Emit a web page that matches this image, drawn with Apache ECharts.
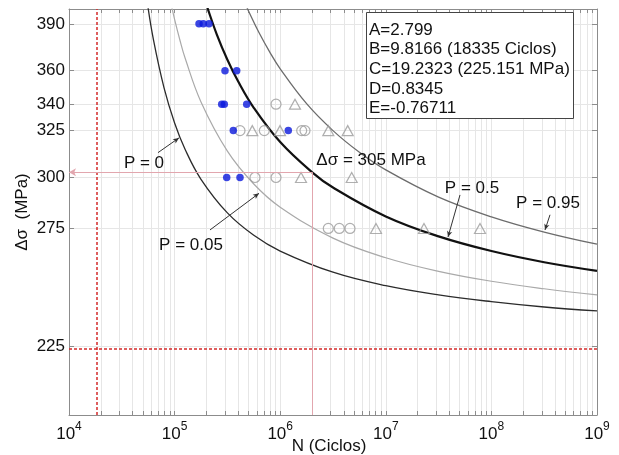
<!DOCTYPE html>
<html>
<head>
<meta charset="utf-8">
<title>Curvas S-N (P = 0, 0.05, 0.5, 0.95)</title>
<script src="https://cdn.jsdelivr.net/npm/echarts@6.0.0/dist/echarts.min.js"></script>
<style>
  html, body { margin: 0; padding: 0; background: #fff; }
  #main { width: 619px; height: 455px; }
</style>
</head>
<body>
<div id="main"></div>
<script>
// ---- datos ----
// ejes
const xExpo = [4, 5, 6, 7, 8, 9];                       // 10^n ciclos
const yTicks = [225, 275, 300, 325, 340, 360, 390];       // MPa
const yMin = 200, yMax = 400;

// curvas percentiles (N en ciclos, S en MPa)
const curvaN_P0 = [5.495e4, 6.31e4, 7.943e4, 1e5, 1.259e5, 1.778e5, 3.162e5, 5.623e5, 1e6, 3.162e6, 1e7, 3.162e7, 1e8, 3.162e8, 1e9];
const curvaS_P0 = [405.2, 379.4, 349.6, 329.3, 314.7, 299.1, 282.4, 271.8, 264.6, 255.2, 249.4, 245.5, 242.7, 240.5, 238.9];

const curvaN_P005 = [9.12e4, 1e5, 1.122e5, 1.259e5, 1.778e5, 3.162e5, 5.623e5, 1e6, 3.162e6, 1e7, 3.162e7, 1e8, 3.162e8, 1e9];
const curvaS_P005 = [405.8, 393.0, 379.4, 367.7, 341.3, 313.8, 296.7, 285.2, 270.5, 261.6, 255.6, 251.3, 248.1, 245.5];

const curvaN_P05 = [1.95e5, 1.995e5, 2.512e5, 3.162e5, 3.981e5, 5.623e5, 1e6, 1.995e6, 3.162e6, 1e7, 3.162e7, 1e8, 3.162e8, 1e9];
const curvaS_P05 = [405.3, 403.1, 382.9, 366.8, 353.7, 337.9, 318.7, 302.8, 294.9, 280.7, 271.3, 264.6, 259.6, 255.8];

const curvaN_P095 = [4.571e5, 5.012e5, 6.31e5, 7.943e5, 1e6, 1.778e6, 3.162e6, 5.623e6, 1e7, 3.162e7, 1e8, 3.162e8, 1e9];
const curvaS_P095 = [405.2, 398.7, 384.1, 371.8, 361.2, 340.3, 325.0, 313.2, 303.9, 290.1, 280.5, 273.3, 267.7];

// ensayos
const rotosN = [170300, 186900, 211800, 300100, 387300, 279300, 295500, 481800, 359700, 1193000, 311500, 416300];
const rotosS = [390, 390, 390, 360, 360, 340, 340, 340, 325, 325, 300, 300];
const circN = [912700, 416300, 707200, 1598000, 1717000, 577200, 912700, 2854000, 3628000, 4581000];
const circS = [340, 325, 325, 325, 325, 300, 300, 275, 275, 275];
const triN = [1380700, 544100, 995600, 2854000, 4357000, 1574000, 4753000, 8074000, 22990000, 77980000];
const triS = [340, 325, 325, 325, 325, 300, 300, 275, 275, 275];

// lineas de referencia
const N0 = 18335, S0 = 225.151;
const Nref = 2e6, Sref = 302.7;

// anotaciones
const notaTexto = ['P = 0', 'P = 0.05', 'Δσ = 305 MPa', 'P = 0.5', 'P = 0.95'];
const notaN = [51300, 143000, 7.24e6, 6.55e7, 3.436e8];
const notaS = [307.5, 267.3, 309.1, 294.7, 287.3];
// flechas: desde (N, S) hasta (N, S)
const flechaN0 = [69600, 216300, 5.044e7, 3.589e8];
const flechaS0 = [313.0, 274.3, 291.2, 281.5];
const flechaN1 = [110000, 6.3e5, 3.882e7, 3.218e8];
const flechaS1 = [321.0, 292.0, 271.0, 274.3];

const cuadroTexto = ['A=2.799', 'B=9.8166 (18335 Ciclos)', 'C=19.2323 (225.151 MPa)', 'D=0.8345', 'E=-0.76711'];

// ---- grafica ----
const lg = Math.log10;
const fuente = '"Liberation Sans", Arial, sans-serif';
const par = (ns, ss) => ns.map((n, i) => [lg(n), lg(ss[i])]);

const xMenores = [];
for (let d = 4; d < 9; d++) for (let k = 1; k < 10; k++) xMenores.push(d + lg(k));
xMenores.push(9);
const yVals = yTicks.map(lg);

const colorEje = '#8c8c8c';
const colorRejilla = '#e6e6e6';

function ejeX(abajo) {
  return {
    type: 'value', min: 4, max: 9,
    position: abajo ? 'bottom' : 'top',
    axisLine: { show: true, lineStyle: { color: colorEje, width: 1 } },
    axisTick: { show: true, inside: true, length: 4, customValues: xMenores, lineStyle: { color: colorEje } },
    axisLabel: abajo ? {
      show: true, customValues: xExpo, margin: 6,
      formatter: v => '{b|10}{s|' + Math.round(v) + '}',
      rich: {
        b: { fontSize: 17, lineHeight: 26, color: '#111', fontFamily: fuente },
        s: { fontSize: 12, lineHeight: 12, verticalAlign: 'top', color: '#111', fontFamily: fuente }
      }
    } : { show: false },
    splitLine: { show: abajo, lineStyle: { color: colorRejilla, width: 1 } },
    name: abajo ? 'N (Ciclos)' : '',
    nameLocation: 'middle', nameGap: 23, nameMoveOverlap: false,
    nameTextStyle: { fontSize: 17, color: '#111', fontFamily: fuente, padding: [0, 8, 0, 0] }
  };
}

function ejeY(izq) {
  return {
    type: 'value', min: lg(yMin), max: lg(yMax),
    position: izq ? 'left' : 'right',
    axisLine: { show: true, lineStyle: { color: colorEje, width: 1 } },
    axisTick: { show: true, inside: true, length: 5, customValues: yVals, lineStyle: { color: colorEje } },
    axisLabel: izq ? {
      show: true, customValues: yVals, margin: 4,
      formatter: v => String(Math.round(Math.pow(10, v))),
      fontSize: 17, color: '#111', fontFamily: fuente
    } : { show: false },
    splitLine: { show: izq, lineStyle: { color: colorRejilla, width: 1 } },
    name: izq ? 'Δσ  (MPa)' : '',
    nameLocation: 'middle', nameGap: 38, nameMoveOverlap: false,
    nameTextStyle: { fontSize: 17, color: '#111', fontFamily: fuente }
  };
}

function curva(nombre, ns, ss, color, ancho) {
  return {
    name: nombre, type: 'line', data: par(ns, ss),
    showSymbol: false, smooth: 0.4, clip: true,
    lineStyle: { color: color, width: ancho }, z: 3
  };
}

const rojo = { color: '#d42a2a', width: 1.5, type: [3, 2] };
const rosa = { color: '#e2a6ae', width: 1, type: 'solid' };
const flecha = { color: '#333', width: 1, type: 'solid' };

const serieP0 = curva('P = 0', curvaN_P0, curvaS_P0, '#2b2b2b', 1.3);
serieP0.markLine = {
  silent: true, animation: false, symbol: ['none', 'none'], symbolSize: 7,
  label: { show: false },
  data: [
    { xAxis: lg(N0), lineStyle: rojo },
    { yAxis: lg(S0), lineStyle: rojo },
    [{ coord: [4, lg(Sref)], symbol: 'arrow', symbolSize: [6, 7], lineStyle: rosa }, { coord: [lg(Nref), lg(Sref)], symbol: 'none' }],
    [{ coord: [lg(Nref), lg(yMin)], symbol: 'none', lineStyle: rosa }, { coord: [lg(Nref), lg(Sref)], symbol: 'none' }]
  ].concat(flechaN0.map((n, i) => [
    { coord: [lg(n), lg(flechaS0[i])], symbol: 'none', lineStyle: flecha },
    { coord: [lg(flechaN1[i]), lg(flechaS1[i])], symbol: 'arrow', symbolSize: [4, 6] }
  ]))
};
serieP0.markPoint = {
  silent: true, animation: false, symbol: 'circle', symbolSize: 1,
  itemStyle: { color: 'rgba(0,0,0,0)' },
  label: { show: true, position: 'inside', color: '#111', fontSize: 17, fontFamily: fuente, formatter: p => p.name },
  data: notaTexto.map((t, i) => ({ name: t, coord: [lg(notaN[i]), lg(notaS[i])] }))
};

const myChart = echarts.init(document.getElementById('main'));
const option = {
  animation: false,
  backgroundColor: '#fff',
  grid: { left: 69, right: 22, top: 9, bottom: 40, containLabel: false, outerBoundsMode: 'none' },
  xAxis: [ejeX(true), ejeX(false)],
  yAxis: [ejeY(true), ejeY(false)],
  series: [
    serieP0,
    curva('P = 0.05', curvaN_P005, curvaS_P005, '#a9a9a9', 1.2),
    curva('P = 0.5', curvaN_P05, curvaS_P05, '#111', 2.2),
    curva('P = 0.95', curvaN_P095, curvaS_P095, '#6c6c6c', 1.3),
    {
      name: 'rotos', type: 'scatter', data: par(rotosN, rotosS),
      symbol: 'circle', symbolSize: 7.5, itemStyle: { color: '#0a18dc' }, z: 5
    },
    {
      name: 'circulos', type: 'scatter', data: par(circN, circS),
      symbol: 'circle', symbolSize: 10,
      itemStyle: { color: 'rgba(0,0,0,0)', borderColor: '#9b9b9b', borderWidth: 1.2 }, z: 4
    },
    {
      name: 'triangulos', type: 'scatter', data: par(triN, triS),
      symbol: 'triangle', symbolSize: [11, 10],
      itemStyle: { color: 'rgba(0,0,0,0)', borderColor: '#9b9b9b', borderWidth: 1.2 }, z: 4
    }
  ],
  graphic: [
    { type: 'rect', z: 100, shape: { x: 366.5, y: 12.5, width: 207, height: 106 },
      style: { fill: '#fff', stroke: '#444', lineWidth: 1 } },
    { type: 'text', z: 101, x: 369, y: 20,
      style: { text: cuadroTexto.join('\n'), fill: '#111', fontSize: 17, fontFamily: fuente, lineHeight: 19.7 } }
  ]
};
myChart.setOption(option);
</script>
</body>
</html>
